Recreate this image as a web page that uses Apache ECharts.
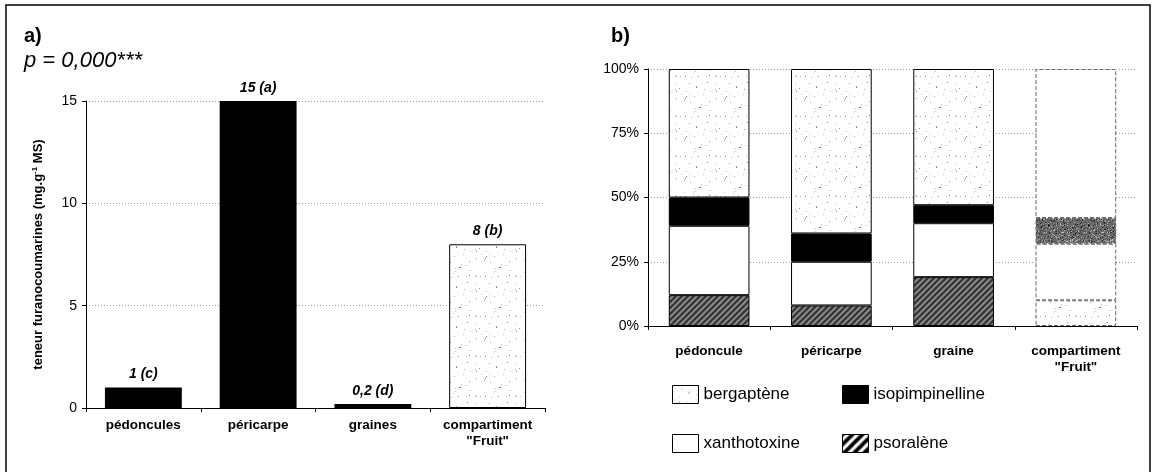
<!DOCTYPE html>
<html><head><meta charset="utf-8">
<script src="https://cdn.jsdelivr.net/npm/echarts@6/dist/echarts.min.js"></script>
<style>html,body{margin:0;padding:0;background:#fff}#c{width:1153px;height:472px}</style>
</head><body><div id="c"></div>
<script>
// ---- data ----
const catsA = ['pédoncules', 'péricarpe', 'graines', 'compartiment\n"Fruit"'];
const valsA = [1, 15, 0.2, 8];
const labelsA = ['1 (c)', '15 (a)', '0,2 (d)', '8 (b)'];
const yTicksA = [0, 5, 10, 15];

const catsB = ['pédoncule', 'péricarpe', 'graine', 'compartiment\n"Fruit"'];
const psoralene = [12, 8, 19, 10];
const xanthotoxine = [27, 17, 21, 22];
const isopimpinelline = [11, 11, 7, 10];
const bergaptene = [50, 64, 53, 58];

// ---- textures ----
let seed = 7;
function rnd() { seed = (seed * 16807) % 2147483647; return seed / 2147483647; }
function dotPattern(bg, n, colors, size) {
  const c = document.createElement('canvas'); c.width = size; c.height = size;
  const g = c.getContext('2d'); g.fillStyle = bg; g.fillRect(0, 0, size, size);
  for (let i = 0; i < n; i++) {
    g.fillStyle = colors[Math.floor(rnd() * colors.length)];
    g.fillRect(Math.floor(rnd() * size), Math.floor(rnd() * size), 1, 1);
  }
  return { image: c, repeat: 'repeat' };
}
function stripePattern(c1, c2, period) {
  const s = period * 2;
  const c = document.createElement('canvas'); c.width = s; c.height = s;
  const g = c.getContext('2d'); g.fillStyle = c2; g.fillRect(0, 0, s, s);
  g.strokeStyle = c1; g.lineWidth = period * 0.75;
  for (let k = -2; k <= 2; k++) { g.beginPath(); g.moveTo(k * s - 2, s + 2); g.lineTo(k * s + s + 2, -2); g.stroke(); }
  return { image: c, repeat: 'repeat' };
}
const bergPat = dotPattern('#ffffff', 40, ['#999', '#bbb', '#777', '#ccc'], 40);
const darkPat = dotPattern('#6a6a6a', 700, ['#222', '#444', '#999', '#bbb', '#555'], 40);
const psorPat = stripePattern('#333', '#8a8a8a', 3);
const psorLegend = stripePattern('#000', '#fff', 5);

const FONT = '"Liberation Sans", Arial, sans-serif';
const chart = echarts.init(document.getElementById('c'), null, { renderer: 'canvas' });

const seriesA = {
  type: 'bar', xAxisIndex: 0, yAxisIndex: 0, barWidth: '67%',
  data: valsA.map((v, i) => ({
    value: v,
    itemStyle: i === 3 ? { color: bergPat, borderColor: '#000', borderWidth: 1 } : { color: '#000' }
  })),
  label: {
    show: true, position: 'top', distance: 6,
    formatter: p => labelsA[p.dataIndex],
    fontFamily: FONT, fontSize: 14, fontWeight: 'bold', fontStyle: 'italic', color: '#000'
  }
};

const bStyle = { borderColor: '#000', borderWidth: 1 };
const fruitB = { borderColor: '#666', borderWidth: 1, borderType: 'dashed' };
function mk(name, arr, color, fruitColor) {
  return {
    name, type: 'bar', stack: 'b', xAxisIndex: 1, yAxisIndex: 1, barWidth: '66%',
    itemStyle: Object.assign({ color }, bStyle),
    data: arr.map((v, i) => i === 3 ? { value: v, itemStyle: Object.assign({ color: fruitColor }, fruitB) } : v)
  };
}

chart.setOption({
  animation: false,
  backgroundColor: '#fff',
  textStyle: { fontFamily: FONT },
  grid: [
    { left: 86, right: 608, top: 101, bottom: 64, containLabel: false },
    { left: 648, right: 16, top: 69, bottom: 146, containLabel: false }
  ],
  xAxis: [
    { type: 'category', gridIndex: 0, data: catsA,
      axisLine: { lineStyle: { color: '#000' } }, axisTick: { show: true, alignWithLabel: false, length: 4, lineStyle: { color: '#000' } },
      axisLabel: { interval: 0, hideOverlap: false, fontFamily: FONT, fontSize: 13.5, fontWeight: 'bold', color: '#000', margin: 9, lineHeight: 16 } },
    { type: 'category', gridIndex: 1, data: catsB,
      axisLine: { lineStyle: { color: '#000' } }, axisTick: { show: true, length: 4, lineStyle: { color: '#000' } },
      axisLabel: { interval: 0, hideOverlap: false, fontFamily: FONT, fontSize: 13.5, fontWeight: 'bold', color: '#000', margin: 17, lineHeight: 16 } }
  ],
  yAxis: [
    { type: 'value', gridIndex: 0, min: yTicksA[0], max: yTicksA[yTicksA.length - 1], interval: 5,
      name: 'teneur furanocoumarines (mg.g{sup|-1} MS)', nameLocation: 'middle', nameGap: 40, nameRotate: 90,
      nameTextStyle: { fontFamily: FONT, fontSize: 13, fontWeight: 'bold', color: '#000',
        rich: { sup: { fontSize: 8, fontWeight: 'bold', verticalAlign: 'top', padding: [0, 0, 7, 0], fontFamily: FONT } } },
      axisLine: { show: true, lineStyle: { color: '#000' } }, axisTick: { show: true, length: 4, lineStyle: { color: '#000' } },
      axisLabel: { fontFamily: FONT, fontSize: 14, color: '#000', margin: 9 },
      splitLine: { lineStyle: { color: '#999', type: [1, 2], width: 1 } } },
    { type: 'value', gridIndex: 1, min: 0, max: 100, interval: 25,
      axisLine: { show: true, lineStyle: { color: '#000' } }, axisTick: { show: true, length: 4, lineStyle: { color: '#000' } },
      axisLabel: { fontFamily: FONT, fontSize: 14, color: '#000', margin: 9, formatter: '{value}%' },
      splitLine: { lineStyle: { color: '#999', type: [1, 2], width: 1 } } }
  ],
  legend: [
    { orient: 'vertical', left: 667, top: 380, itemWidth: 26, itemHeight: 18, itemGap: 30,
      textStyle: { fontFamily: FONT, fontSize: 17, color: '#000' }, icon: 'rect',
      itemStyle: { borderColor: '#000', borderWidth: 1 },
      data: [{ name: 'bergaptène' }, { name: 'xanthotoxine' }] },
    { orient: 'vertical', left: 837, top: 380, itemWidth: 26, itemHeight: 18, itemGap: 30,
      textStyle: { fontFamily: FONT, fontSize: 17, color: '#000' }, icon: 'rect',
      itemStyle: { borderColor: '#000', borderWidth: 1 },
      data: [{ name: 'isopimpinelline' }, { name: 'psoralène', itemStyle: { color: psorLegend, borderColor: '#000', borderWidth: 1 } }] }
  ],
  series: [
    seriesA,
    mk('psoralène', psoralene, psorPat, bergPat),
    mk('xanthotoxine', xanthotoxine, '#fff', '#fff'),
    mk('isopimpinelline', isopimpinelline, '#000', darkPat),
    mk('bergaptène', bergaptene, bergPat, '#fff')
  ],
  graphic: [
    { type: 'rect', shape: { x: 6, y: 5, width: 1144, height: 480 }, style: { fill: 'none', stroke: '#000', lineWidth: 1.5 }, silent: true },
    { type: 'text', left: 24, top: 26, style: { text: 'a)', font: 'bold 20px ' + FONT, fill: '#000' } },
    { type: 'text', left: 24, top: 50, style: { text: 'p = 0,000***', font: 'italic 22px ' + FONT, fill: '#000' } },
    { type: 'text', left: 611, top: 26, style: { text: 'b)', font: 'bold 20px ' + FONT, fill: '#000' } }
  ]
});
</script></body></html>
